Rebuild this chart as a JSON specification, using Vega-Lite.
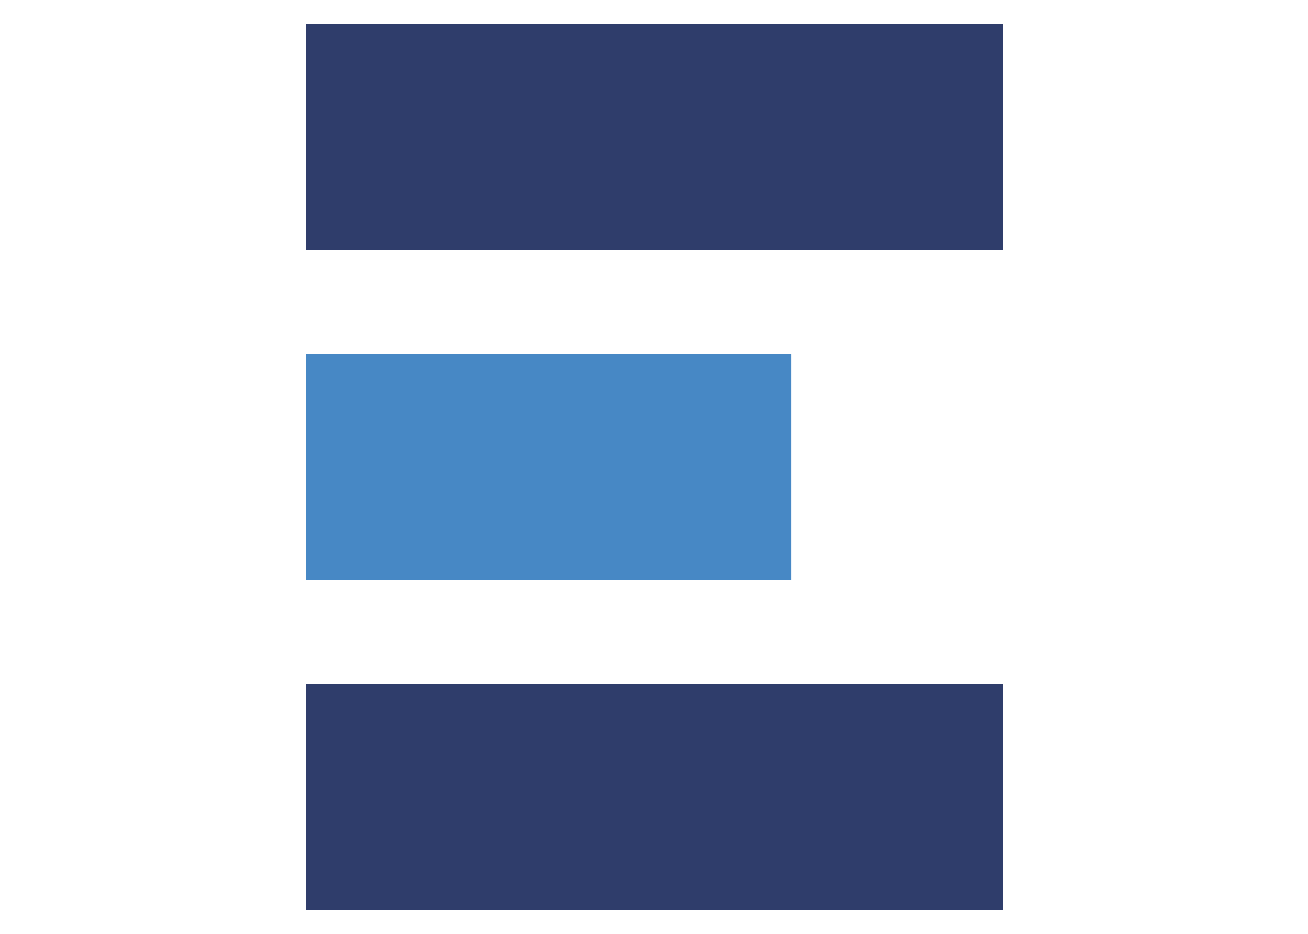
{
  "$schema": "https://vega.github.io/schema/vega-lite/v6.json",
  "description": "Three horizontal bars",
  "autosize": "none",
  "width": 697,
  "height": 934,
  "padding": {"left": 306, "right": 305, "top": 0, "bottom": 0},
  "background": "white",
  "config": {"view": {"stroke": null}},
  "data": {
    "values": [
      {"item": "A", "value": 100, "group": "dark"},
      {"item": "B", "value": 69.6, "group": "light"},
      {"item": "C", "value": 100, "group": "dark"}
    ]
  },
  "mark": "bar",
  "encoding": {
    "y": {
      "field": "item",
      "type": "nominal",
      "sort": null,
      "scale": {"paddingInner": 0.315, "paddingOuter": 0.073},
      "axis": null
    },
    "x": {
      "field": "value",
      "type": "quantitative",
      "scale": {"domain": [0, 100], "nice": false},
      "axis": null
    },
    "color": {
      "field": "group",
      "type": "nominal",
      "scale": {"domain": ["dark", "light"], "range": ["#2f3d6b", "#4788c5"]},
      "legend": null
    }
  }
}
